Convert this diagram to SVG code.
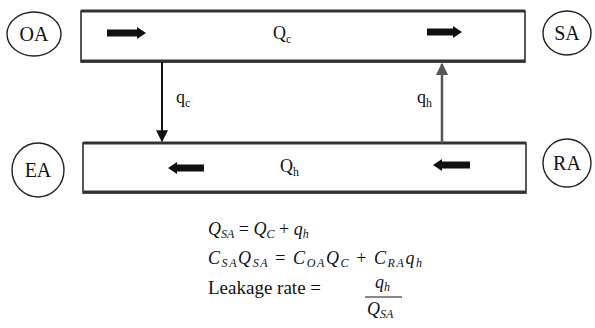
<svg xmlns="http://www.w3.org/2000/svg" width="595" height="328" viewBox="0 0 595 328">
<style>
.box{fill:none;stroke:#222;stroke-width:1.5}
.edge{stroke:#333;stroke-width:3}
.circ{fill:none;stroke:#222;stroke-width:1.4}
.lbl{font-family:"Liberation Serif","Times New Roman",serif;font-size:20px;fill:#111;text-anchor:middle}
.t{font-family:"Liberation Serif","Times New Roman",serif;font-size:18px;fill:#111}
.i{font-style:italic}
.s{font-size:12px}
.blk{fill:#111}
</style>
<defs>
<marker id="ah" viewBox="0 0 10 10" refX="9" refY="5" markerWidth="6" markerHeight="6" orient="auto">
<path d="M0,0 L10,5 L0,10 z" fill="#111"/>
</marker>
<marker id="ahg" viewBox="0 0 10 10" refX="9" refY="5" markerWidth="5" markerHeight="5" orient="auto">
<path d="M0,0 L10,5 L0,10 z" fill="#555"/>
</marker>
</defs>
<g id="duct-supply">
<rect class="box" x="81" y="11" width="444" height="51"/>
<line class="edge" x1="81" y1="11" x2="525" y2="11"/>
<line class="edge" x1="81" y1="61" x2="525" y2="61"/>
<polygon class="blk" points="107,29.5 137,29.5 137,27 146,33 137,39 137,36.5 107,36.5"/>
<polygon class="blk" points="427,28.5 453,28.5 453,26 462,32 453,38 453,35.5 427,35.5"/>
<text class="t" x="273" y="39">Q<tspan class="s" dy="4">c</tspan></text>
</g>
<g id="duct-exhaust">
<rect class="box" x="83" y="143" width="443" height="50"/>
<line class="edge" x1="83" y1="143" x2="526" y2="143"/>
<line class="edge" x1="83" y1="192" x2="526" y2="192"/>
<polygon class="blk" points="204,164.5 177,164.5 177,162 168,168 177,174 177,171.5 204,171.5"/>
<polygon class="blk" points="470,161.5 442,161.5 442,159 433,165 442,171 442,168.5 470,168.5"/>
<text class="t" x="280" y="172">Q<tspan class="s" dy="4">h</tspan></text>
</g>
<g id="OA"><ellipse class="circ" cx="34" cy="34" rx="27" ry="22"/><text class="lbl" x="34" y="41">OA</text></g>
<g id="SA"><ellipse class="circ" cx="567" cy="33" rx="24" ry="22"/><text class="lbl" x="567" y="40">SA</text></g>
<g id="EA"><ellipse class="circ" cx="38" cy="170" rx="26" ry="27"/><text class="lbl" x="38" y="177">EA</text></g>
<g id="RA"><ellipse class="circ" cx="567" cy="163" rx="24" ry="24"/><text class="lbl" x="567" y="170">RA</text></g>
<g id="connectors">
<line x1="162" y1="62" x2="162" y2="141" stroke="#111" stroke-width="2" marker-end="url(#ah)"/>
<line x1="442" y1="143" x2="442" y2="64" stroke="#555" stroke-width="2.5" marker-end="url(#ahg)"/>
<text class="t" x="176" y="103">q<tspan class="s" dy="4">c</tspan></text>
<text class="t" x="417" y="103">q<tspan class="s" dy="4">h</tspan></text>
</g>
<g id="equations">
<text class="t" x="208" y="235"><tspan class="i">Q</tspan><tspan class="i s" dy="3">SA</tspan><tspan dy="-3"> = </tspan><tspan class="i">Q</tspan><tspan class="i s" dy="3">C</tspan><tspan dy="-3"> + </tspan><tspan class="i">q</tspan><tspan class="i s" dy="3">h</tspan></text>
<text class="t" x="208" y="264" textLength="214" lengthAdjust="spacing"><tspan class="i">C</tspan><tspan class="i s" dy="3">SA</tspan><tspan class="i" dy="-3">Q</tspan><tspan class="i s" dy="3">SA</tspan><tspan dy="-3"> = </tspan><tspan class="i">C</tspan><tspan class="i s" dy="3">OA</tspan><tspan class="i" dy="-3">Q</tspan><tspan class="i s" dy="3">C</tspan><tspan dy="-3"> + </tspan><tspan class="i">C</tspan><tspan class="i s" dy="3">RA</tspan><tspan class="i" dy="-3">q</tspan><tspan class="i s" dy="3">h</tspan></text>
<text class="t" x="208" y="294" font-size="19" style="font-size:19px">Leakage rate =</text>
<text class="t" x="375" y="288"><tspan class="i">q</tspan><tspan class="i s" dy="3">h</tspan></text>
<line x1="365" y1="297" x2="402" y2="297" stroke="#111" stroke-width="1"/>
<text class="t" x="367" y="315"><tspan class="i">Q</tspan><tspan class="i s" dy="3">SA</tspan></text>
</g>
</svg>
